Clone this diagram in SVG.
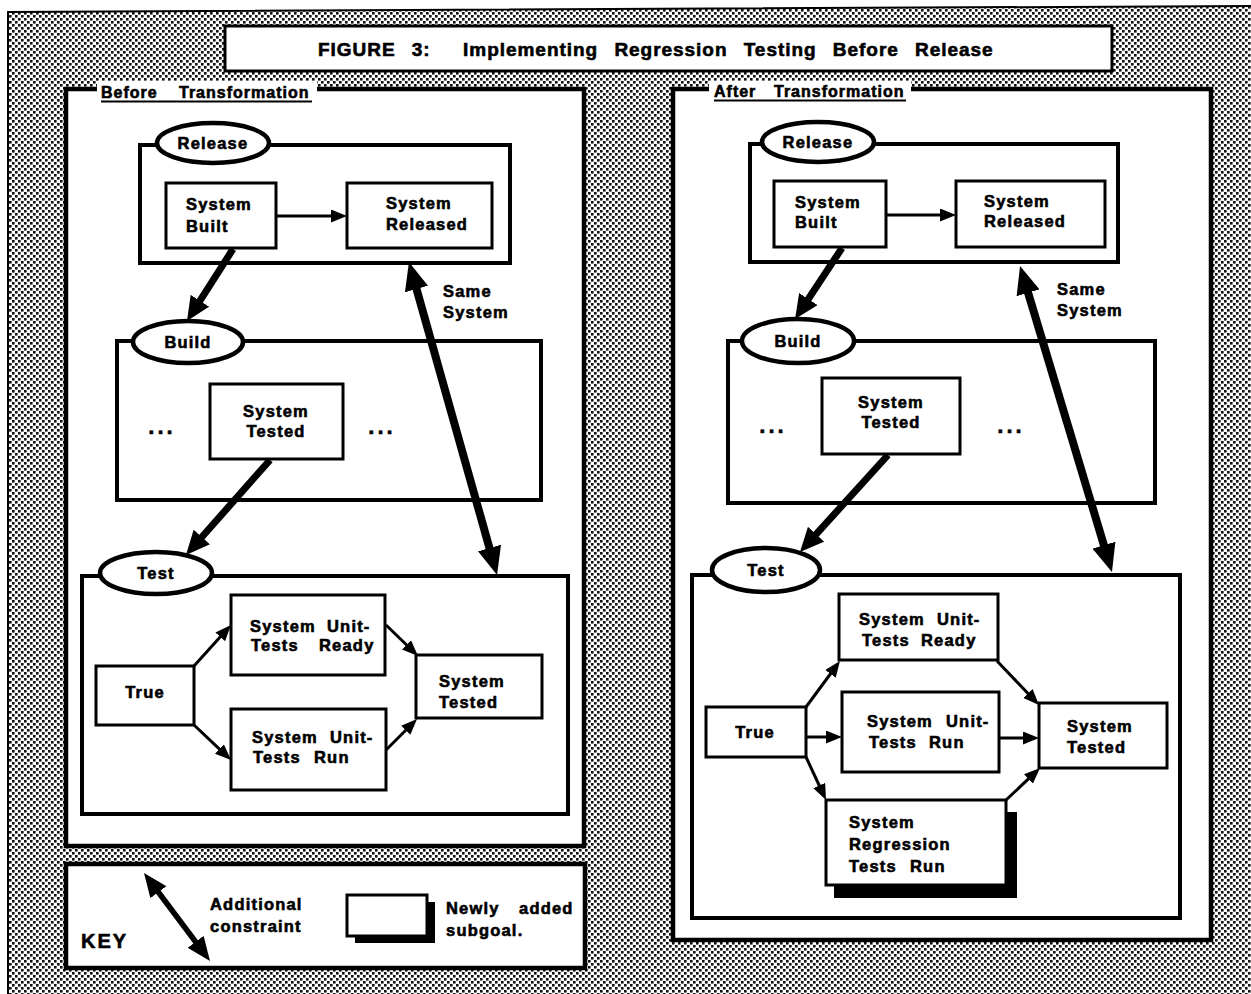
<svg xmlns="http://www.w3.org/2000/svg" width="1251" height="994" viewBox="0 0 1251 994">
  <defs>
    <style>
      .panel { fill: #fff; stroke: #000; stroke-width: 4.5; }
      .grp { fill: #fff; stroke: #000; stroke-width: 4; }
      .node { fill: #fff; stroke: #000; stroke-width: 3; }
      .oval { fill: #fff; stroke: #000; stroke-width: 4.5; }
      .t { font-family: "Liberation Sans", Arial, Helvetica, sans-serif; font-weight: bold; font-size: 16.5px; letter-spacing: 1.2px; fill: #000; stroke: #000; stroke-width: 0.6px; }
      .mid { text-anchor: middle; }
      .title { font-size: 19px; letter-spacing: 0.4px; word-spacing: 10px; }
      .lbl { font-size: 16px; letter-spacing: 1px; }
      .key { font-size: 20px; letter-spacing: 2px; }
      .dots { font-size: 22px; letter-spacing: 3px; }
      .thin { fill: none; stroke: #000; stroke-width: 3; marker-end: url(#hThin); }
      .thick { fill: none; stroke: #000; stroke-width: 7; marker-end: url(#hThick); }
      .dbl { fill: none; stroke: #000; stroke-width: 8; marker-start: url(#hBig); marker-end: url(#hBig); }
      .keyarrow { fill: none; stroke: #000; stroke-width: 5.5; marker-start: url(#hKey); marker-end: url(#hKey); }
    </style>
    <!-- printed halftone screen used for the page background -->
    <pattern id="halftone" width="6" height="6" patternUnits="userSpaceOnUse">
      <rect width="6" height="6" fill="#fff"/>
      <rect x="0" y="0" width="2.6" height="2.6" fill="#111"/>
      <rect x="3" y="3" width="2.6" height="2.6" fill="#111"/>
    </pattern>
    <marker id="hThin" markerUnits="userSpaceOnUse" viewBox="0 0 16 13" markerWidth="16" markerHeight="13" refX="11" refY="6.5" orient="auto-start-reverse">
      <path d="M0,0 L16,6.5 L0,13 z" fill="#000"/>
    </marker>
    <marker id="hThick" markerUnits="userSpaceOnUse" viewBox="0 0 24 22" markerWidth="24" markerHeight="22" refX="14" refY="11" orient="auto-start-reverse">
      <path d="M0,0 L24,11 L0,22 z" fill="#000"/>
    </marker>
    <marker id="hBig" markerUnits="userSpaceOnUse" viewBox="0 0 28 24" markerWidth="28" markerHeight="24" refX="16" refY="12" orient="auto-start-reverse">
      <path d="M0,0 L28,12 L0,24 z" fill="#000"/>
    </marker>
    <marker id="hKey" markerUnits="userSpaceOnUse" viewBox="0 0 24 20" markerWidth="24" markerHeight="20" refX="14" refY="10" orient="auto-start-reverse">
      <path d="M0,0 L24,10 L0,20 z" fill="#000"/>
    </marker>
  </defs>

  <!-- page -->
  <rect width="1251" height="994" fill="#fff"/>
  <polygon points="8,12 1251,6 1251,994 8,994" fill="url(#halftone)"/>
  <polyline points="8,994 8,12 1251,6" fill="none" stroke="#000" stroke-width="2"/>

  <!-- heading -->
  <g id="title">
    <rect x="225" y="26" width="887" height="45" fill="#fff" stroke="#000" stroke-width="3"/>
    <text class="t title" x="318" y="56" textLength="675" lengthAdjust="spacing" xml:space="preserve">FIGURE 3:  Implementing Regression Testing Before Release</text>
  </g>

  <!-- ================= left panel ================= -->
  <g id="panel-before">
    <rect class="panel" x="66" y="89" width="518" height="757"/>
    <rect x="97" y="81" width="220" height="20" fill="#fff"/>
    <text class="t lbl" y="98"><tspan x="101">Before</tspan><tspan x="179">Transformation</tspan></text>
    <line x1="101" y1="101.5" x2="312" y2="101.5" stroke="#000" stroke-width="1.8"/>
  </g>

  <g id="before-release">
    <rect class="grp" x="140" y="145" width="370" height="118"/>
    <ellipse class="oval" cx="213" cy="143" rx="56" ry="20"/>
    <text class="t mid" x="213" y="149">Release</text>
  </g>
  <g id="before-system-built">
    <rect class="node" x="166" y="183" width="110" height="65"/>
    <text class="t" x="186" y="210">System</text>
    <text class="t" x="186" y="232">Built</text>
  </g>
  <g id="before-system-released">
    <rect class="node" x="347" y="183" width="145" height="65"/>
    <text class="t" x="386" y="209">System</text>
    <text class="t" x="386" y="230">Released</text>
  </g>

  <g id="before-build">
    <rect class="grp" x="117" y="341" width="424" height="159"/>
    <ellipse class="oval" cx="188" cy="342" rx="55" ry="21"/>
    <text class="t mid" x="188" y="348">Build</text>
    <text class="t dots mid" x="162" y="434">...</text>
    <text class="t dots mid" x="382" y="434">...</text>
  </g>
  <g id="before-build-system-tested">
    <rect class="node" x="210" y="384" width="133" height="75"/>
    <text class="t mid" x="276" y="417">System</text>
    <text class="t mid" x="276" y="437">Tested</text>
  </g>

  <g id="before-test">
    <rect class="grp" x="82" y="576" width="486" height="238"/>
    <ellipse class="oval" cx="156" cy="573" rx="56" ry="21"/>
    <text class="t mid" x="156" y="579">Test</text>
  </g>
  <g id="before-true">
    <rect class="node" x="96" y="666" width="98" height="59"/>
    <text class="t mid" x="145" y="698">True</text>
  </g>
  <g id="before-unit-tests-ready">
    <rect class="node" x="231" y="595" width="154" height="80"/>
    <text class="t" y="632"><tspan x="250">System</tspan><tspan x="327">Unit-</tspan></text>
    <text class="t" y="651"><tspan x="251">Tests</tspan><tspan x="319">Ready</tspan></text>
  </g>
  <g id="before-unit-tests-run">
    <rect class="node" x="231" y="709" width="155" height="81"/>
    <text class="t" y="743"><tspan x="252">System</tspan><tspan x="330">Unit-</tspan></text>
    <text class="t" y="763"><tspan x="253">Tests</tspan><tspan x="314">Run</tspan></text>
  </g>
  <g id="before-test-system-tested">
    <rect class="node" x="416" y="655" width="126" height="63"/>
    <text class="t" x="439" y="687">System</text>
    <text class="t" x="439" y="708">Tested</text>
  </g>
  <g id="before-same-system-label">
    <text class="t" x="443" y="297">Same</text>
    <text class="t" x="443" y="318">System</text>
  </g>

  <!-- ================= right panel ================= -->
  <g id="panel-after">
    <rect class="panel" x="673" y="89" width="538" height="851"/>
    <rect x="709" y="81" width="202" height="20" fill="#fff"/>
    <text class="t lbl" y="97"><tspan x="714">After</tspan><tspan x="774">Transformation</tspan></text>
    <line x1="714" y1="100.5" x2="906" y2="100.5" stroke="#000" stroke-width="1.8"/>
  </g>

  <g id="after-release">
    <rect class="grp" x="750" y="144" width="368" height="118"/>
    <ellipse class="oval" cx="818" cy="142" rx="56" ry="20"/>
    <text class="t mid" x="818" y="148">Release</text>
  </g>
  <g id="after-system-built">
    <rect class="node" x="774" y="181" width="112" height="66"/>
    <text class="t" x="795" y="208">System</text>
    <text class="t" x="795" y="228">Built</text>
  </g>
  <g id="after-system-released">
    <rect class="node" x="956" y="181" width="149" height="66"/>
    <text class="t" x="984" y="207">System</text>
    <text class="t" x="984" y="227">Released</text>
  </g>

  <g id="after-build">
    <rect class="grp" x="728" y="341" width="427" height="162"/>
    <ellipse class="oval" cx="798" cy="341" rx="56" ry="22"/>
    <text class="t mid" x="798" y="347">Build</text>
    <text class="t dots mid" x="773" y="433">...</text>
    <text class="t dots mid" x="1011" y="433">...</text>
  </g>
  <g id="after-build-system-tested">
    <rect class="node" x="822" y="378" width="138" height="76"/>
    <text class="t mid" x="891" y="408">System</text>
    <text class="t mid" x="891" y="428">Tested</text>
  </g>

  <g id="after-test">
    <rect class="grp" x="692" y="575" width="488" height="343"/>
    <ellipse class="oval" cx="766" cy="570" rx="54" ry="22"/>
    <text class="t mid" x="766" y="576">Test</text>
  </g>
  <g id="after-true">
    <rect class="node" x="706" y="707" width="100" height="50"/>
    <text class="t mid" x="755" y="738">True</text>
  </g>
  <g id="after-unit-tests-ready">
    <rect class="node" x="839" y="594" width="159" height="66"/>
    <text class="t" y="625"><tspan x="859">System</tspan><tspan x="937">Unit-</tspan></text>
    <text class="t" y="646"><tspan x="862">Tests</tspan><tspan x="921">Ready</tspan></text>
  </g>
  <g id="after-unit-tests-run">
    <rect class="node" x="842" y="692" width="157" height="80"/>
    <text class="t" y="727"><tspan x="867">System</tspan><tspan x="946">Unit-</tspan></text>
    <text class="t" y="748"><tspan x="869">Tests</tspan><tspan x="929">Run</tspan></text>
  </g>
  <g id="after-regression-tests-run">
    <rect x="834" y="812" width="183" height="86" fill="#000"/>
    <rect class="node" x="826" y="800" width="180" height="85"/>
    <text class="t" x="849" y="828">System</text>
    <text class="t" x="849" y="850">Regression</text>
    <text class="t" y="872"><tspan x="849">Tests</tspan><tspan x="910">Run</tspan></text>
  </g>
  <g id="after-test-system-tested">
    <rect class="node" x="1039" y="703" width="128" height="65"/>
    <text class="t" x="1067" y="732">System</text>
    <text class="t" x="1067" y="753">Tested</text>
  </g>
  <g id="after-same-system-label">
    <text class="t" x="1057" y="295">Same</text>
    <text class="t" x="1057" y="316">System</text>
  </g>

  <!-- ================= connectors ================= -->
  <g id="connectors">
    <!-- before -->
    <line class="thin" x1="277" y1="216" x2="342" y2="216"/>
    <line class="thick" x1="233" y1="249" x2="192.4" y2="312.6"/>
    <line class="thick" x1="270" y1="460" x2="192.6" y2="547.5"/>
    <line class="dbl" x1="412.2" y1="273.6" x2="493.8" y2="563.4"/>
    <line class="thin" x1="194" y1="666" x2="227.6" y2="628.7"/>
    <line class="thin" x1="194" y1="725" x2="227.4" y2="756.6"/>
    <line class="thin" x1="386" y1="625" x2="414.4" y2="652.5"/>
    <line class="thin" x1="386" y1="750" x2="413.5" y2="722.5"/>
    <!-- after -->
    <line class="thin" x1="887" y1="215" x2="951" y2="215"/>
    <line class="thick" x1="842" y1="248" x2="800.6" y2="310.7"/>
    <line class="thick" x1="888" y1="455" x2="806.7" y2="544.6"/>
    <line class="dbl" x1="1023.5" y1="277.5" x2="1108.5" y2="560.5"/>
    <line class="thin" x1="806" y1="707" x2="837" y2="665"/>
    <line class="thin" x1="806" y1="737" x2="837" y2="737"/>
    <line class="thin" x1="806" y1="757" x2="823.9" y2="795.5"/>
    <line class="thin" x1="997" y1="661" x2="1035.5" y2="701.4"/>
    <line class="thin" x1="999" y1="738" x2="1034" y2="738"/>
    <line class="thin" x1="1006" y1="800" x2="1036.4" y2="771.4"/>
  </g>

  <!-- ================= legend ================= -->
  <g id="legend">
    <rect class="panel" x="66" y="864" width="519" height="104"/>
    <text class="t key" x="81" y="948">KEY</text>
    <line class="keyarrow" x1="150" y1="881" x2="204" y2="953"/>
    <text class="t" x="210" y="910">Additional</text>
    <text class="t" x="210" y="932">constraint</text>
    <rect x="355" y="902" width="80" height="41" fill="#000"/>
    <rect class="node" x="347" y="895" width="80" height="41"/>
    <text class="t" y="914"><tspan x="446">Newly</tspan><tspan x="519">added</tspan></text>
    <text class="t" x="446" y="936">subgoal.</text>
  </g>
</svg>
